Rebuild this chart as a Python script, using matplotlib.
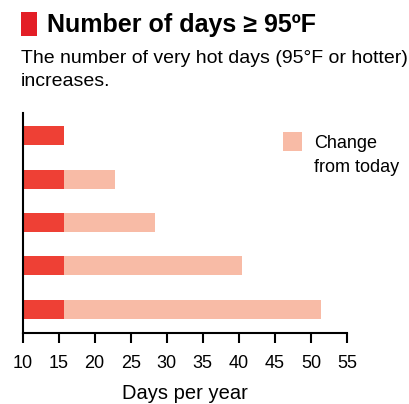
import matplotlib
matplotlib.use("Agg")
import matplotlib.pyplot as plt
from matplotlib.patches import Rectangle

plt.rcParams['font.family'] = ['Liberation Sans', 'DejaVu Sans']

# days per year at or above 95F: today, then four future scenarios
today_days = [15.7, 15.7, 15.7, 15.7, 15.7]
future_days = [15.7, 22.8, 28.4, 40.4, 51.4]
xticks = [10, 15, 20, 25, 30, 35, 40, 45, 50, 55]

RED = '#ee4035'
SALMON = '#f8bba6'
W, H = 409, 404

fig = plt.figure(figsize=(W / 100, H / 100), dpi=100)

def px(x, y):
    # pixel position from top-left -> figure fraction
    return x / W, 1 - y / H

left, top = 22.5, 113
right, bottom = 347, 333
ax = fig.add_axes([left / W, 1 - bottom / H, (right - left) / W, (bottom - top) / H])

rows = list(range(len(today_days)))
change = [f - t for f, t in zip(future_days, today_days)]
ax.barh(rows, [t - 10 for t in today_days], left=10, height=0.44, color=RED)
ax.barh(rows, change, left=today_days, height=0.44, color=SALMON)

ax.set_xlim(10, 55)
ax.set_ylim(4.55, -0.53)
ax.set_xticks(xticks)
ax.set_yticks([])
ax.tick_params(axis='x', length=7, width=1.5, labelsize=13, pad=8.5, color='black')
for side in ('top', 'right'):
    ax.spines[side].set_visible(False)
for side in ('left', 'bottom'):
    ax.spines[side].set_linewidth(1.5)
ax.set_xlabel('Days per year', fontsize=14.5, labelpad=9)

# legend drawn by hand so the swatch sits beside the first line
x0, y0 = px(283, 151)
fig.patches.append(Rectangle((x0, y0), 19 / W, 19 / H, transform=fig.transFigure,
                             facecolor=SALMON, edgecolor='none'))
fig.text(*px(314, 148), 'Change', fontsize=13, va='baseline')
fig.text(*px(314, 172), 'from today', fontsize=13, va='baseline')

# header
x0, y0 = px(21, 35.7)
fig.patches.append(Rectangle((x0, y0), 15.7 / W, 24 / H, transform=fig.transFigure,
                             facecolor='#e31e26', edgecolor='none'))
fig.text(*px(47, 32.3), 'Number of days ≥ 95ºF', fontsize=18, fontweight='bold',
         va='baseline')
fig.text(*px(21, 63), 'The number of very hot days (95°F or hotter)', fontsize=14,
         va='baseline')
fig.text(*px(21, 86), 'increases.', fontsize=14, va='baseline')

fig.savefig('out.png', dpi=100)
